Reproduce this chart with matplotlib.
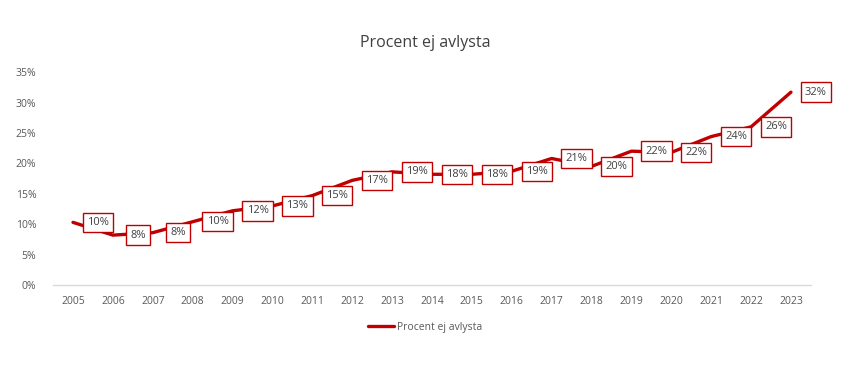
import matplotlib.pyplot as plt
from matplotlib.ticker import PercentFormatter

years = [str(y) for y in range(2005, 2024)]
values = [10.3, 8.2, 8.6, 10.4, 12.2, 13.0, 14.7, 17.2, 18.6, 18.2, 18.2, 18.7, 20.8, 19.5, 22.0, 21.8, 24.4, 26.0, 31.7]
labels = ["10%", "8%", "8%", "10%", "12%", "13%", "15%", "17%", "19%", "18%",
          "18%", "19%", "21%", "20%", "22%", "22%", "24%", "26%", "32%"]

red = "#C00000"
grey = "#595959"
plt.rcParams["font.family"] = ["Open Sans", "DejaVu Sans"]

fig = plt.figure(figsize=(8.5, 3.66), dpi=100)
ax = fig.add_axes([0.0624, 0.2213, 0.8916, 0.5817])

x = list(range(len(years)))
line, = ax.plot(x, values, color=red, lw=2.4, solid_joinstyle="round",
                solid_capstyle="round", label="Procent ej avlysta", zorder=3)

for xi, v, lab in zip(x, values, labels):
    ax.annotate(lab, (xi, v), xytext=(18, 0), textcoords="offset points",
                ha="center", va="center", fontsize=8, color="#404040", zorder=4,
                bbox=dict(boxstyle="square,pad=0.38", fc="white", ec=red, lw=1.0))

ax.set_xlim(-0.5, len(years) - 0.5)
ax.set_ylim(0, 35)
ax.set_xticks(x)
ax.set_xticklabels(years)
ax.set_yticks(range(0, 36, 5))
ax.yaxis.set_major_formatter(PercentFormatter(decimals=0))
ax.tick_params(axis="both", length=0, labelsize=7.5, colors=grey, pad=8)
ax.tick_params(axis="y", pad=12)

for side in ["top", "right", "left"]:
    ax.spines[side].set_visible(False)
ax.spines["bottom"].set_color("#D9D9D9")
ax.spines["bottom"].set_linewidth(1)

fig.suptitle("Procent ej avlysta", x=0.5, y=0.905, fontsize=11.5, color="#404040")

fig.legend(handles=[line], loc="center", bbox_to_anchor=(0.5, 0.105), frameon=False,
           fontsize=7.5, labelcolor=grey, handlelength=2.5, handletextpad=0.3)

fig.savefig("out.png", dpi=100, facecolor="white")
